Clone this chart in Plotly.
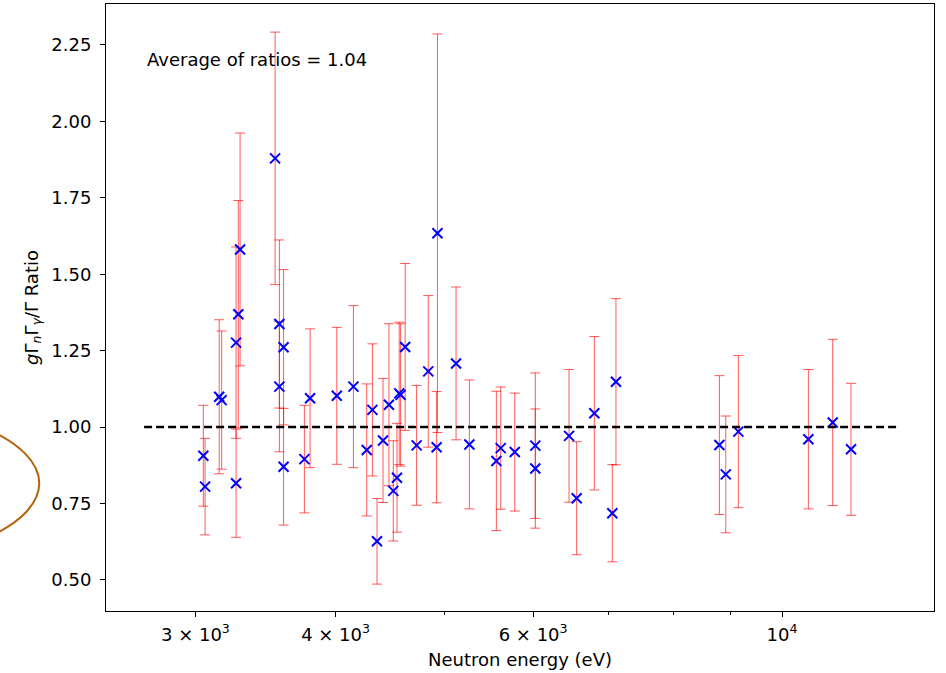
import plotly.graph_objects as go

# ---- data ----
energy = [3049, 3060, 3150, 3166, 3261, 3261, 3276, 3288, 3533, 3564,
          3564, 3595, 3595, 3752, 3796, 4010, 4149, 4264, 4314, 4355,
          4409, 4463, 4503, 4537, 4558, 4571, 4614, 4724, 4838, 4922,
          4930, 5122, 5264, 5564, 5614, 5778, 6027, 6027, 6459, 6561,
          6803, 7059, 7112, 8794, 8910, 9143, 10556, 11097, 11522]
ratio = [0.906, 0.805, 1.099, 1.088, 1.276, 0.816, 1.369, 1.581, 1.879, 1.337,
         1.132, 1.261, 0.870, 0.895, 1.094, 1.102, 1.132, 0.925, 1.056, 0.626,
         0.956, 1.073, 0.791, 0.834, 1.110, 1.105, 1.262, 0.940, 1.182, 0.934,
         1.634, 1.208, 0.943, 0.889, 0.931, 0.918, 0.939, 0.864, 0.971, 0.767,
         1.045, 0.718, 1.148, 0.941, 0.845, 0.985, 0.960, 1.015, 0.927]
ratio_err = [0.165, 0.158, 0.252, 0.226, 0.313, 0.177, 0.372, 0.381, 0.413, 0.275,
             0.213, 0.254, 0.191, 0.176, 0.227, 0.224, 0.265, 0.216, 0.216, 0.140,
             0.203, 0.265, 0.164, 0.178, 0.233, 0.233, 0.273, 0.196, 0.248, 0.182,
             0.652, 0.250, 0.211, 0.228, 0.200, 0.193, 0.238, 0.195, 0.217, 0.185,
             0.251, 0.159, 0.272, 0.227, 0.191, 0.249, 0.228, 0.272, 0.216]
ref_line_x = [2700, 12700]
ref_line_y = [1.0, 1.0]
x_tickvals = [3000, 4000, 6000, 10000]
x_ticktext = ["3 \u00d7 10<sup>3</sup>", "4 \u00d7 10<sup>3</sup>", "6 \u00d7 10<sup>3</sup>", "10<sup>4</sup>"]
x_minor = [5000, 7000, 8000, 9000]
y_tickvals = [0.50, 0.75, 1.00, 1.25, 1.50, 1.75, 2.00, 2.25]
avg_text = "Average of ratios = 1.04"

FONT = "DejaVu Sans"
FS = 18

fig = go.Figure()
fig.add_trace(go.Scatter(
    x=energy, y=ratio, mode="markers",
    marker=dict(symbol="x-thin", size=10, color="blue",
                line=dict(color="blue", width=2)),
    error_y=dict(type="data", array=ratio_err, visible=True,
                 color="rgba(255,0,0,0.65)", thickness=1, width=5),
    showlegend=False,
))
fig.add_trace(go.Scatter(
    x=ref_line_x, y=ref_line_y, mode="lines",
    line=dict(color="black", width=2.5, dash="8px,4px"),
    showlegend=False,
))

fig.add_annotation(x=0.047, y=0.909, xref="paper", yref="paper",
                   text=avg_text, showarrow=False, xanchor="left",
                   yanchor="middle", font=dict(family=FONT, size=FS, color="black"))

# decorative curve at the left edge
fig.add_shape(type="circle", xref="paper", yref="paper",
              x0=-0.5636, x1=-0.0806, y0=0.0776, y1=0.3432,
              line=dict(color="rgb(180,100,10)", width=2))

fig.update_layout(
    width=946, height=673,
    margin=dict(l=106, r=12, t=4, b=62),
    paper_bgcolor="white", plot_bgcolor="white",
    font=dict(family=FONT, size=FS, color="black"),
    xaxis=dict(
        type="log", range=[3.3974, 4.1355], automargin=False,
        tickmode="array", tickvals=x_tickvals, ticktext=x_ticktext,
        ticks="outside", ticklen=5, tickwidth=1, tickcolor="black",
        ticklabelstandoff=2,
        minor=dict(tickmode="array", tickvals=x_minor, ticks="outside",
                   ticklen=3, tickwidth=1, tickcolor="black", showgrid=False),
        showline=True, linecolor="black", linewidth=1, mirror=True,
        showgrid=False, zeroline=False,
        title=dict(text="Neutron energy (eV)", standoff=9,
                   font=dict(family=FONT, size=FS)),
        tickfont=dict(family=FONT, size=FS),
    ),
    yaxis=dict(
        range=[0.398, 2.384], automargin=False,
        tickmode="array", tickvals=y_tickvals, tickformat=".2f",
        ticks="outside", ticklen=5, tickwidth=1, tickcolor="black",
        ticklabelstandoff=5,
        showline=True, linecolor="black", linewidth=1, mirror=True,
        showgrid=False, zeroline=False,
        title=dict(text="<i>g</i>\u0393<sub><i>n</i></sub>\u0393<sub><i>\u03b3</i></sub>/\u0393 Ratio",
                   standoff=8, font=dict(family=FONT, size=FS)),
        tickfont=dict(family=FONT, size=FS),
    ),
)

fig.write_html("out.html")
